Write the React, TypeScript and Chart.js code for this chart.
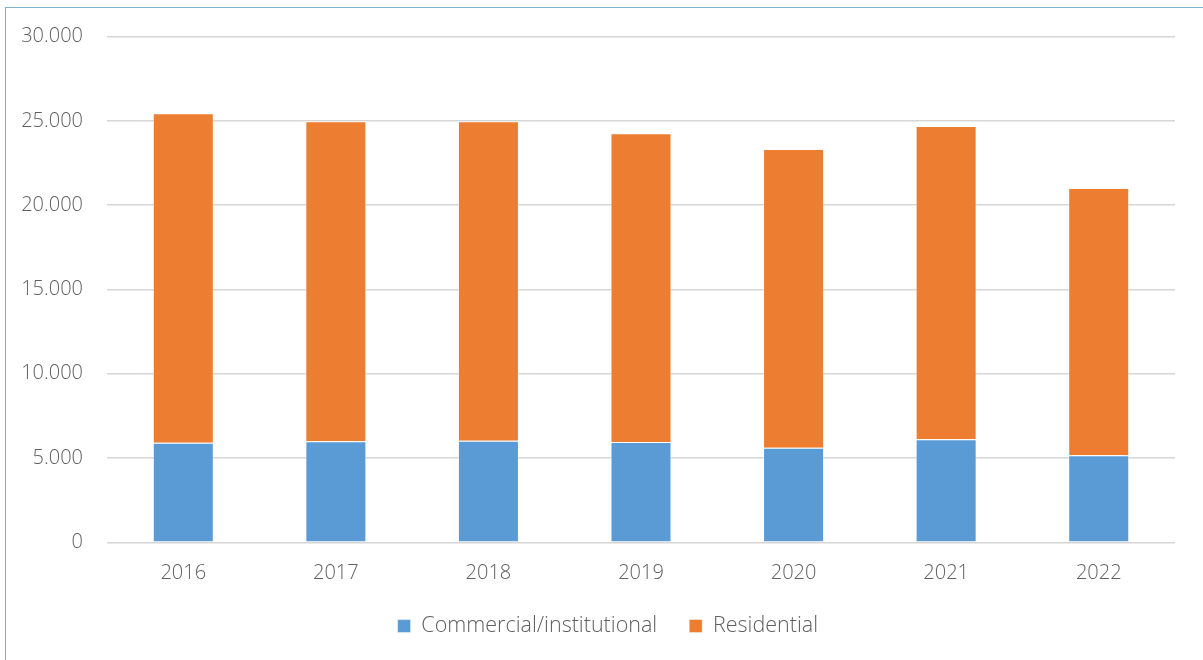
import React, { useEffect, useRef } from "react";
import { Chart, registerables } from "chart.js";

Chart.register(...registerables);

const years = ["2016", "2017", "2018", "2019", "2020", "2021", "2022"];
const commercial = [5910, 5990, 6030, 5950, 5610, 6110, 5160];
const residential = [19540, 18990, 18950, 18310, 17720, 18580, 15850];
const yTicks = [0, 5000, 10000, 15000, 20000, 25000, 30000];

const fmt = (v: number) => String(v).replace(/\B(?=(\d{3})+(?!\d))/g, ".");

const legendShift = {
  id: "legendShift",
  afterLayout(chart: any) {
    if (chart.legend) chart.legend.left += 40.6;
  },
};

export default function App() {
  const ref = useRef<HTMLCanvasElement | null>(null);
  useEffect(() => {
    if (!ref.current) return;
    const font = { family: "'Open Sans', sans-serif", size: 20, weight: "300" as any };
    const legendFont = { family: "'Open Sans', sans-serif", size: 21.5, weight: "300" as any };
    const textColor = "#606060";
    const chart = new Chart(ref.current, {
      type: "bar",
      data: {
        labels: years,
        datasets: [
          {
            label: "Commercial/institutional",
            data: commercial,
            backgroundColor: "#5B9BD5",
            borderColor: "rgba(255,255,255,0.45)",
            borderWidth: 1,
          },
          {
            label: "Residential",
            data: residential,
            backgroundColor: "#ED7D31",
            borderColor: "rgba(255,255,255,0.45)",
            borderWidth: 1,
          },
        ],
      },
      plugins: [legendShift],
      options: {
        animation: false,
        responsive: false,
        maintainAspectRatio: false,
        layout: { padding: { top: 36.5, right: 28, bottom: 13.2, left: 0 } },
        datasets: { bar: { barPercentage: 0.4, categoryPercentage: 1 } },
        plugins: {
          tooltip: { enabled: false },
          legend: {
            position: "bottom",
            labels: {
              font: legendFont,
              color: textColor,
              boxWidth: 13,
              boxHeight: 13,
              padding: 32,
            },
          },
        },
        scales: {
          x: {
            stacked: true,
            grid: { display: false, drawTicks: false },
            border: { display: false },
            ticks: { font, color: textColor, padding: 19 },
            afterFit: (s: any) => {
              s.height = 41;
            },
          },
          y: {
            stacked: true,
            min: 0,
            max: 30000,
            afterBuildTicks: (s: any) => {
              s.ticks = yTicks.map((v) => ({ value: v }));
            },
            grid: { color: "#d6d6d6", lineWidth: 1.6, drawTicks: false },
            border: { display: false },
            ticks: {
              font,
              color: textColor,
              padding: 24,
              callback: (v: any) => fmt(Number(v)),
            },
            afterFit: (s: any) => {
              s.width = 107;
            },
          },
        },
      },
    });
    return () => chart.destroy();
  }, []);
  return (
    <div style={{ position: "absolute", left: 0, top: 0, width: 1203, height: 660, background: "#fff" }}>
      <div
        style={{
          position: "absolute",
          left: 5,
          top: 7,
          right: 0,
          bottom: 0,
          borderLeft: "1px solid #7fb1cc",
          borderTop: "1px solid #7fb1cc",
        }}
      />
      <canvas ref={ref} width={1203} height={660} style={{ position: "absolute", left: 0, top: 0 }} />
    </div>
  );
}
